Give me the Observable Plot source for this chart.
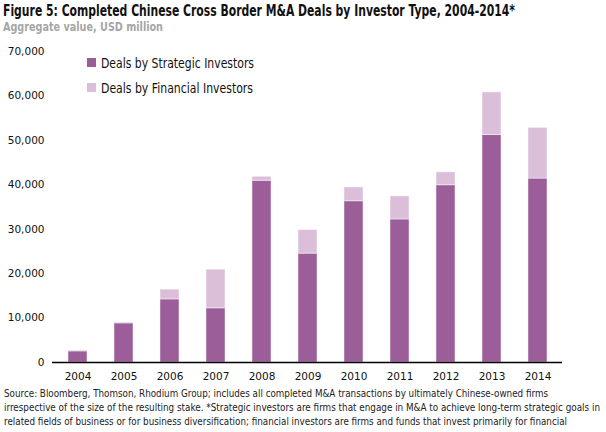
<!DOCTYPE html>
<html>
<head>
<meta charset="utf-8">
<script src="https://cdn.jsdelivr.net/npm/d3@7"></script>
<script src="https://cdn.jsdelivr.net/npm/@observablehq/plot@0.6"></script>
<style>
  html, body { margin: 0; padding: 0; background: #fff; }
  body { width: 606px; height: 432px; overflow: hidden; position: relative;
         font-family: "DejaVu Sans", sans-serif; }
  .fit { position: absolute; white-space: nowrap; transform-origin: 0 0; }
  #title { left: 3px; top: 2px; font-size: 15px; font-weight: bold; color: #111; }
  #subtitle { left: 3px; top: 19px; font-size: 13px; font-weight: bold; color: #a6a6a6; }
  #chart { position: absolute; left: 0; top: 40px; }
  #legend { position: absolute; left: 87px; top: 50px; font-size: 14px; color: #111; }
  .li { display: flex; align-items: center; height: 25px; }
  .sw { width: 9px; height: 9px; margin-right: 5px; flex: none; }
  .lt { display: inline-block; white-space: nowrap; transform-origin: 0 50%; }
  .cap { left: 4px; font-size: 11px; line-height: 14px; color: #222; }
</style>
</head>
<body>
<div id="title" class="fit">Figure 5: Completed Chinese Cross Border M&amp;A Deals by Investor Type, 2004-2014*</div>
<div id="subtitle" class="fit">Aggregate value, USD million</div>
<div id="chart"></div>
<div id="legend"></div>
<div id="cap1" class="fit cap" style="top:387px">Source: Bloomberg, Thomson, Rhodium Group; includes all completed M&amp;A transactions by ultimately Chinese-owned firms</div>
<div id="cap2" class="fit cap" style="top:401px">irrespective of the size of the resulting stake. *Strategic investors are firms that engage in M&amp;A to achieve long-term strategic goals in</div>
<div id="cap3" class="fit cap" style="top:415px">related fields of business or for business diversification; financial investors are firms and funds that invest primarily for financial</div>
<script>
const years = ["2004","2005","2006","2007","2008","2009","2010","2011","2012","2013","2014"];
const strategic = [2500, 8800, 14200, 12200, 40900, 24500, 36300, 32200, 39900, 51200, 41400];
const financial = [200, 200, 2200, 8700, 900, 5300, 3100, 5200, 2900, 9600, 11400];
const seriesNames = ["Deals by Strategic Investors", "Deals by Financial Investors"];
const seriesColors = ["#9b5e98", "#dbbfd8"];
const yTicks = [0, 10000, 20000, 30000, 40000, 50000, 60000, 70000];

const data = [];
years.forEach((y, i) => {
  data.push({year: y, type: seriesNames[0], value: strategic[i]});
  data.push({year: y, type: seriesNames[1], value: financial[i]});
});

const fmt = d3.format(",");
const chart = Plot.plot({
  width: 606,
  height: 346,
  marginLeft: 52,
  marginRight: 44,
  marginTop: 11,
  marginBottom: 24,
  style: {fontFamily: '"DejaVu Sans", sans-serif', fontSize: "10.5px", color: "#111"},
  x: {domain: years, paddingInner: 0.59, paddingOuter: 0.295, label: null},
  y: {domain: [0, 70000], label: null},
  color: {domain: seriesNames, range: seriesColors},
  marks: [
    Plot.barY(data, {x: "year", y: "value", fill: "type", stroke: "#fff", strokeOpacity: 0.45, strokeWidth: 1}),
    Plot.axisY({ticks: yTicks, tickSize: 0, tickPadding: 8, tickFormat: fmt, label: null}),
    Plot.axisX({tickSize: 0, tickPadding: 10, label: null}),
    Plot.ruleY([0], {stroke: "#000", strokeWidth: 1.5}),
    Plot.ruleX([0], {x: () => null, frameAnchor: "left", y1: 0, y2: 70000, stroke: "#000", strokeWidth: 1.2})
  ]
});
document.getElementById("chart").appendChild(chart);

function scaleTo(el, target) {
  const w = el.getBoundingClientRect().width;
  if (w > 0) el.style.transform = `scaleX(${target / w})`;
}

const legend = document.getElementById("legend");
const legendWidths = [153, 152];
seriesNames.forEach((n, i) => {
  const row = document.createElement("div");
  row.className = "li";
  const sw = document.createElement("div");
  sw.className = "sw";
  sw.style.background = seriesColors[i];
  const t = document.createElement("span");
  t.className = "lt";
  t.textContent = n;
  row.appendChild(sw); row.appendChild(t);
  legend.appendChild(row);
  scaleTo(t, legendWidths[i]);
});

function fit(id, target) { scaleTo(document.getElementById(id), target); }
fit("title", 512);
fit("subtitle", 160);
fit("cap1", 544);
fit("cap2", 596);
fit("cap3", 563);
</script>
</body>
</html>
